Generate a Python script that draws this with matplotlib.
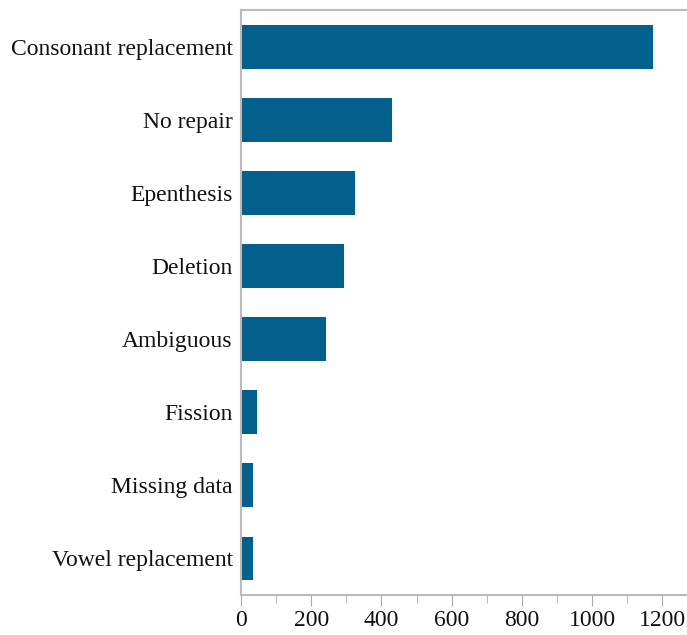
import matplotlib
matplotlib.use("Agg")
import matplotlib.pyplot as plt
from matplotlib.ticker import MultipleLocator

categories = ["Consonant replacement", "No repair", "Epenthesis", "Deletion",
              "Ambiguous", "Fission", "Missing data", "Vowel replacement"]
values = [1173, 430, 325, 293, 242, 46, 34, 33]
xticks = [0, 200, 400, 600, 800, 1000, 1200]

plt.rcParams['font.family'] = ['Liberation Serif', 'DejaVu Serif']

fig = plt.figure(figsize=(6.87, 6.35), dpi=100)
ax = fig.add_axes([241/687, 1 - 595/635, 446/687, (595 - 10)/635])

ypos = list(range(len(categories)))
ax.barh(ypos, values, height=0.6, color="#03608c")
ax.set_ylim(len(categories) - 0.5, -0.5)
ax.set_xlim(0, 1270)
ax.set_yticks(ypos)
ax.set_yticklabels(categories, fontsize=17, color="#111111")
ax.set_xticks(xticks)
ax.set_xticklabels([str(t) for t in xticks], fontsize=17, color="#111111")
ax.xaxis.set_minor_locator(MultipleLocator(100))
ax.tick_params(axis='y', length=0, pad=6)
ax.tick_params(axis='x', which='major', length=8, color="#aaaaaa", pad=3)
ax.tick_params(axis='x', which='minor', length=6, color="#aaaaaa")

for s in ['left', 'bottom', 'top']:
    ax.spines[s].set_color("#bbbbbb")
    ax.spines[s].set_linewidth(1.5)
ax.spines['right'].set_visible(False)

fig.savefig("out.png", dpi=100)
